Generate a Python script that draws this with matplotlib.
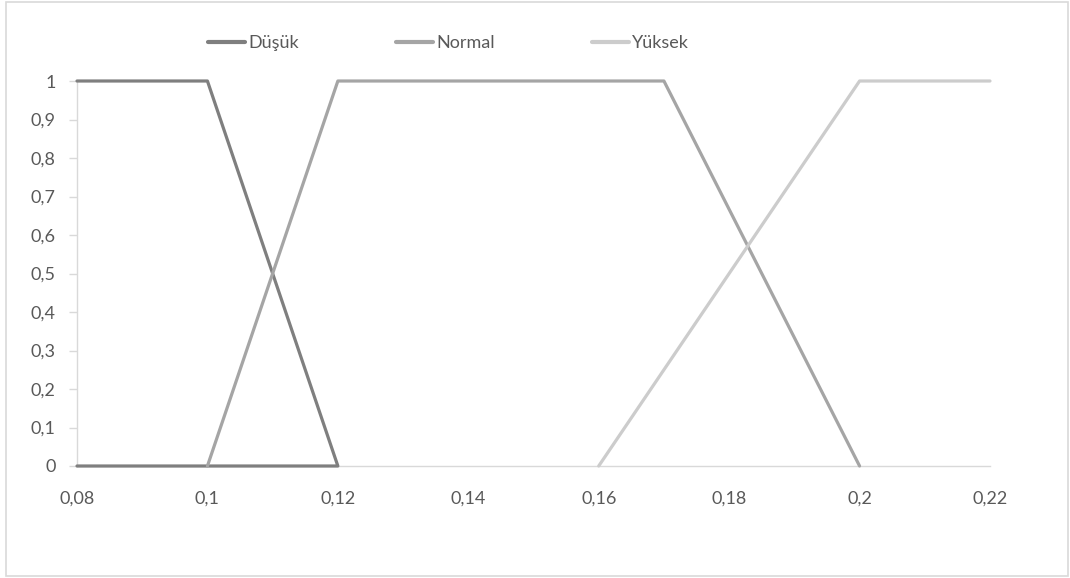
import matplotlib
matplotlib.use("Agg")
import matplotlib.pyplot as plt
from matplotlib.patches import Rectangle
from matplotlib.ticker import FuncFormatter

# Membership functions (x, degree)
dusuk_x = [0.08, 0.10, 0.12, 0.08]
dusuk_y = [1, 1, 0, 0]
normal_x = [0.10, 0.12, 0.17, 0.20]
normal_y = [0, 1, 1, 0]
yuksek_x = [0.16, 0.20, 0.22]
yuksek_y = [0, 1, 1]

series_names = ["Düşük", "Normal", "Yüksek"]
series_colors = ["#7f7f7f", "#a5a5a5", "#cccccc"]

x_ticks = [0.08, 0.10, 0.12, 0.14, 0.16, 0.18, 0.20, 0.22]
y_ticks = [0, 0.1, 0.2, 0.3, 0.4, 0.5, 0.6, 0.7, 0.8, 0.9, 1.0]

plt.rcParams["font.family"] = ["Lato", "DejaVu Sans"]
text_color = "#595959"
axis_color = "#d9d9d9"
fs = 13

W, H = 1070, 578
fig = plt.figure(figsize=(W / 100, H / 100), dpi=100)
ax = fig.add_axes([77 / W, 1 - 466 / H, (990 - 77) / W, (466 - 81) / H])

# outer chart frame
fig.patches.append(Rectangle((6 / W, 2 / H), 1062 / W, 574 / H,
                             transform=fig.transFigure, fill=False,
                             edgecolor=axis_color, linewidth=1.2))

for xs, ys, name, col in zip([dusuk_x, normal_x, yuksek_x],
                             [dusuk_y, normal_y, yuksek_y],
                             series_names, series_colors):
    ax.plot(xs, ys, color=col, linewidth=2.3, label=name,
            solid_joinstyle="round", solid_capstyle="round", clip_on=False)

ax.set_xlim(0.08, 0.22)
ax.set_ylim(0, 1)
ax.set_xticks(x_ticks)
ax.set_yticks(y_ticks)


def comma_fmt(v, _pos):
    s = f"{v:.2f}".rstrip("0").rstrip(".")
    return s.replace(".", ",")


ax.xaxis.set_major_formatter(FuncFormatter(comma_fmt))
ax.yaxis.set_major_formatter(FuncFormatter(comma_fmt))

for side in ["top", "right"]:
    ax.spines[side].set_visible(False)
for side in ["left", "bottom"]:
    ax.spines[side].set_color(axis_color)
    ax.spines[side].set_linewidth(1.0)
    ax.spines[side].set_zorder(0)

ax.tick_params(axis="y", direction="out", length=5.5, width=1.0, color=axis_color,
               labelsize=fs, labelcolor=text_color, pad=10)
ax.tick_params(axis="x", length=0, labelsize=fs, labelcolor=text_color, pad=18)

leg = ax.legend(loc="center left",
                bbox_to_anchor=((208 - 77) / 913, 1 + (81 - 43) / 385),
                ncol=3, frameon=False, fontsize=fs, handlelength=2.05,
                handletextpad=0.2, columnspacing=5.35, borderpad=0,
                borderaxespad=0, labelcolor=text_color)
for h in leg.get_lines():
    h.set_linewidth(3)

fig.savefig("out.png", dpi=100)
